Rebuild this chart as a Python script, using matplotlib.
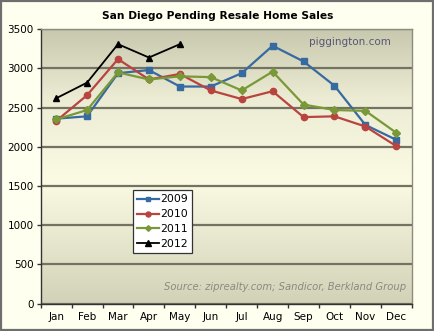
import numpy as np
import matplotlib
matplotlib.use("Agg")
import matplotlib.pyplot as plt
from matplotlib.colors import LinearSegmentedColormap
from matplotlib.patches import Rectangle

months = ["Jan", "Feb", "Mar", "Apr", "May", "Jun",
          "Jul", "Aug", "Sep", "Oct", "Nov", "Dec"]
s2009 = [2360, 2390, 2940, 2980, 2770, 2770, 2940, 3290, 3090, 2780, 2280, 2090]
s2010 = [2330, 2660, 3120, 2860, 2930, 2720, 2610, 2710, 2380, 2390, 2260, 2010]
s2011 = [2350, 2470, 2950, 2860, 2900, 2890, 2720, 2960, 2540, 2470, 2460, 2180]
s2012 = [2620, 2820, 3310, 3140, 3310]

plt.rcParams['font.family'] = ['DejaVu Sans']

fig = plt.figure(figsize=(4.35, 3.31), dpi=100, facecolor="#fffff0")
# outer frame
fig.patches.append(Rectangle((0.002, 0.003), 0.994, 0.993, transform=fig.transFigure,
                             fill=False, edgecolor="#6e6e6e", linewidth=1.6))

ax = fig.add_axes([0.0936, 0.0825, 0.853, 0.829])

# gradient background
cmap = LinearSegmentedColormap.from_list("bg", [(0, "#d2d2b8"), (0.45, "#fbfbe4"),
                                                (0.75, "#ececd4"), (1, "#c8c8ae")])
grad = np.linspace(0, 1, 256).reshape(-1, 1)
ax.imshow(grad, aspect="auto", cmap=cmap, extent=[-0.5, 11.5, 0, 3500],
          origin="lower", zorder=0)

x = np.arange(len(months))
ax.plot(x, s2009, color="#376aa0", marker="s", markersize=4.2, lw=1.6, label="2009", zorder=3)
ax.plot(x, s2010, color="#b9443f", marker="o", markersize=4.5, lw=1.6, label="2010", zorder=3)
ax.plot(x, s2011, color="#799838", marker="D", markersize=3.6, lw=1.6, label="2011", zorder=3)
ax.plot(x[:len(s2012)], s2012, color="black", marker="^", markersize=4.8, lw=1.3, label="2012", zorder=4)

ax.set_xlim(-0.5, 11.5)
ax.set_ylim(0, 3500)
ax.set_yticks(range(0, 3501, 500))
ax.set_xticks(x)
ax.set_xticklabels(months)
ax.set_xticks(np.arange(-0.5, 12, 1), minor=True)
ax.tick_params(axis="x", which="major", length=0, labelsize=7.5, pad=6)
ax.tick_params(axis="x", which="minor", length=3, width=1, color="#333333", direction="out")
ax.tick_params(axis="y", length=3, width=1, color="#333333", labelsize=7.5, pad=2)
ax.yaxis.grid(True, color="#737363", lw=1.6, zorder=1)
ax.set_axisbelow(True)

for side in ["left", "bottom"]:
    ax.spines[side].set_color("#333333")
    ax.spines[side].set_linewidth(1)
for side in ["right", "top"]:
    ax.spines[side].set_color("#8c8c80")
    ax.spines[side].set_linewidth(1)

fig.text(0.5, 0.952, "San Diego Pending Resale Home Sales", ha="center", va="center",
         fontsize=7.7, fontweight="bold")
ax.text(0.945, 0.955, "piggington.com", transform=ax.transAxes, ha="right", va="center",
        fontsize=7.5, color="#575775")
ax.text(0.985, 0.06, "Source: ziprealty.com; Sandicor, Berkland Group", transform=ax.transAxes,
        ha="right", va="center", fontsize=7.2, style="italic", color="#8a8a80")

leg = ax.legend(loc="upper left", bbox_to_anchor=(0.248, 0.414), borderaxespad=0,
                fontsize=7.8, fancybox=False, edgecolor="#333333", framealpha=1,
                handlelength=2.0, handletextpad=0.1, labelspacing=0.45, borderpad=0.4,
                markerscale=0.8)
leg.get_frame().set_linewidth(0.9)

fig.savefig("out.png", dpi=100, facecolor=fig.get_facecolor())
